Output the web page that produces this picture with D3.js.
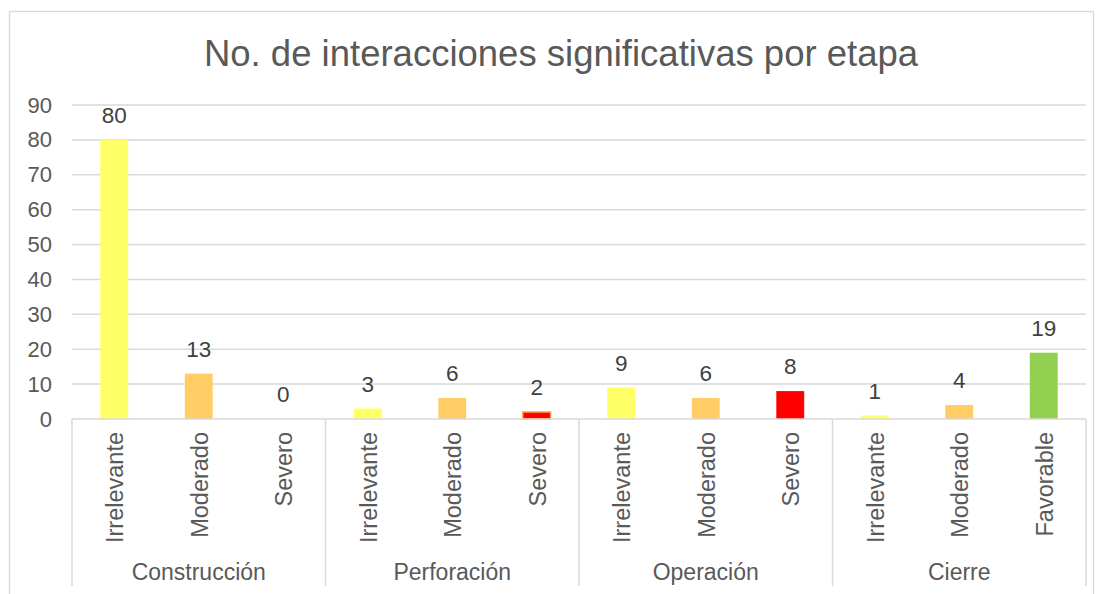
<!DOCTYPE html>
<html>
<head>
<meta charset="utf-8">
<script src="https://cdn.jsdelivr.net/npm/d3@7"></script>
<style>
  body { margin: 0; background: #fff; }
  svg { display: block; font-family: "Liberation Sans", Arial, sans-serif; }
</style>
</head>
<body>
<svg width="1101" height="594"></svg>
<script>
const stages = ["Construcción", "Perforación", "Operación", "Cierre"];
const categories = [
    ["Irrelevante", "Moderado", "Severo"],
    ["Irrelevante", "Moderado", "Severo"],
    ["Irrelevante", "Moderado", "Severo"],
    ["Irrelevante", "Moderado", "Favorable"]
];
const values = [
    [80, 13, 0],
    [3, 6, 2],
    [9, 6, 8],
    [1, 4, 19]
];
const yTicks = [0, 10, 20, 30, 40, 50, 60, 70, 80, 90];
const levelColors = {
    Irrelevante: "#ffff66",
    Moderado: "#ffcc66",
    Severo: "#ff0000",
    Favorable: "#92d050"
};

const svg = d3.select("svg");
const plotLeft = 72, plotRight = 1086, plotTop = 105, plotBottom = 419;

// outer chart frame
svg.append("rect")
    .attr("x", 9.5).attr("y", 11.5)
    .attr("width", 1084).attr("height", 600)
    .attr("fill", "none").attr("stroke", "#d9d9d9").attr("stroke-width", 1.3);

svg.append("text")
    .attr("x", 561).attr("y", 66)
    .attr("text-anchor", "middle")
    .attr("font-size", 36.5)
    .attr("fill", "#595959")
    .text("No. de interacciones significativas por etapa");

// flatten
const rows = [];
stages.forEach((s, i) => {
    categories[i].forEach((c, j) => {
        rows.push({ key: i + "-" + j, stage: s, cat: c, value: values[i][j], gi: i });
    });
});

const x = d3.scaleBand()
    .domain(rows.map(d => d.key))
    .range([plotLeft, plotRight])
    .paddingInner(0.67)
    .paddingOuter(0.335);

const y = d3.scaleLinear().domain([0, 90]).range([plotBottom, plotTop]);

svg.append("g")
    .selectAll("line")
    .data(yTicks.slice(1))
    .enter()
    .append("line")
    .attr("x1", plotLeft).attr("x2", plotRight)
    .attr("y1", d => y(d)).attr("y2", d => y(d))
    .attr("stroke", "#d9d9d9").attr("stroke-width", 1.5);

const yAxis = svg.append("g")
    .attr("transform", `translate(${plotLeft},0)`)
    .call(d3.axisLeft(y).tickValues(yTicks).tickSize(0).tickPadding(20));
yAxis.select(".domain").remove();
yAxis.selectAll("text")
    .attr("font-size", 22)
    .attr("fill", "#595959")
    .attr("font-family", "Liberation Sans, Arial, sans-serif");

svg.append("g")
    .selectAll("rect")
    .data(rows)
    .enter()
    .append("rect")
    .attr("x", d => x(d.key))
    .attr("width", x.bandwidth())
    .attr("y", d => y(d.value))
    .attr("height", d => y(0) - y(d.value))
    .attr("fill", d => levelColors[d.cat])
    .attr("stroke", d => d.gi === 1 && d.cat === "Severo" ? "#ffa040" : "none")
    .attr("stroke-width", 1.5);

svg.append("g")
    .selectAll("text")
    .data(rows)
    .enter()
    .append("text")
    .attr("x", d => x(d.key) + x.bandwidth() / 2)
    .attr("y", d => y(d.value) - 17)
    .attr("text-anchor", "middle")
    .attr("font-size", 22.5)
    .attr("fill", "#404040")
    .text(d => d.value);

// axis line
svg.append("line")
    .attr("x1", plotLeft).attr("x2", plotRight)
    .attr("y1", plotBottom).attr("y2", plotBottom)
    .attr("stroke", "#d9d9d9").attr("stroke-width", 1.5);

// group separators
const step = (plotRight - plotLeft) / rows.length;
const bounds = d3.range(stages.length + 1).map(i => plotLeft + i * 3 * step);
svg.append("g")
    .selectAll("line")
    .data(bounds)
    .enter()
    .append("line")
    .attr("x1", d => d).attr("x2", d => d)
    .attr("y1", plotBottom).attr("y2", 586)
    .attr("stroke", "#d9d9d9").attr("stroke-width", 1.5);

// category labels (vertical)
svg.append("g")
    .selectAll("text")
    .data(rows)
    .enter()
    .append("text")
    .attr("transform", d => `translate(${x(d.key) + x.bandwidth() / 2 + 9},432) rotate(-90)`)
    .attr("text-anchor", "end")
    .attr("font-size", 23.5)
    .attr("fill", "#595959")
    .text(d => d.cat);

svg.append("g")
    .selectAll("text")
    .data(stages)
    .enter()
    .append("text")
    .attr("x", (d, i) => (bounds[i] + bounds[i + 1]) / 2)
    .attr("y", 580)
    .attr("text-anchor", "middle")
    .attr("font-size", 23)
    .attr("fill", "#595959")
    .text(d => d);
</script>
</body>
</html>
